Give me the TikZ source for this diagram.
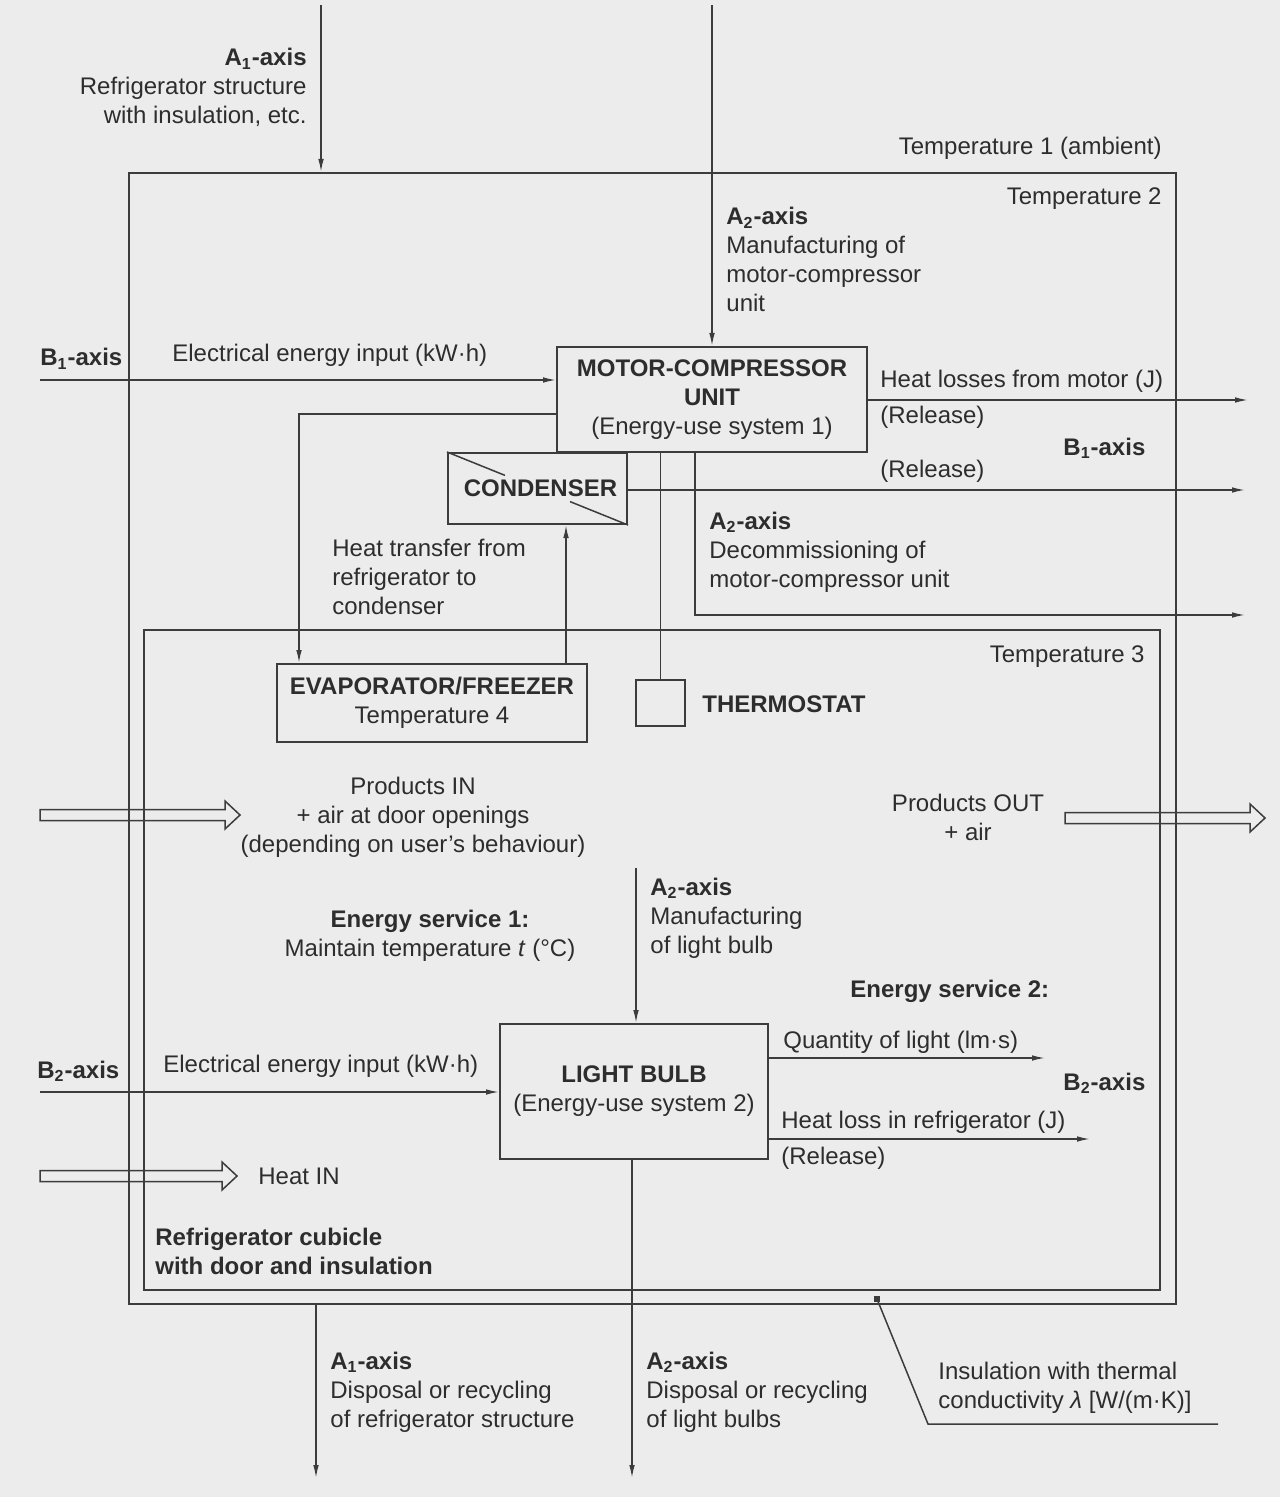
\documentclass[tikz,border=0pt]{standalone}
\usepackage{fontspec}
\setmainfont{Liberation Sans}
\usetikzlibrary{calc,arrows.meta}
\definecolor{paper}{RGB}{236,236,236}
\definecolor{ink}{RGB}{45,45,45}
\definecolor{lineclr}{RGB}{60,60,60}
\newcommand\hollowArrow[2]{%
  \draw[harr] ($(#1)+(0,-5.5)$) -- ($(#2)+(-15,-5.5)$) -- ($(#2)+(-15,-14)$) -- (#2)
    -- ($(#2)+(-15,14)$) -- ($(#2)+(-15,5.5)$) -- ($(#1)+(0,5.5)$) -- cycle;}
\begin{document}
\begin{tikzpicture}[x=0.5pt,y=-0.5pt,
  every node/.style={text=ink, font=\fontsize{12pt}{14.5pt}\selectfont, inner sep=0pt},
  box/.style={draw=lineclr, line width=1pt, align=center},
  arr/.style={draw=lineclr, line width=0.75pt, -{Latex[length=6.5pt,width=2.8pt]}},
  ln/.style={draw=lineclr, line width=0.75pt},
  harr/.style={draw=lineclr, line width=0.75pt},
  lblL/.style={anchor=base west, align=left},
  lblR/.style={anchor=base east, align=right},
  lblC/.style={anchor=base, align=center}]
\fill[paper] (0,0) rectangle (1280,1497);
\useasboundingbox (0,0) rectangle (1280,1497);

% enclosures
\node[box, minimum width=523.5pt, minimum height=565.5pt] (outer) at (652.5,738.5) {};
\node[box, minimum width=508pt, minimum height=330pt] (inner) at (652,960) {};

% component boxes
\node[box, minimum width=155pt, minimum height=52.5pt] (motor) at (712,399.5)
  {\textbf{MOTOR-COMPRESSOR}\\\textbf{UNIT}\\(Energy-use system 1)};
\node[box, minimum width=89.5pt, minimum height=35.5pt] (cond) at (537.5,488.5) {\hspace*{3pt}\textbf{CONDENSER}};
\draw[ln] (cond.north west) -- ($(cond.north west)!0.32!(cond.south east)$);
\draw[ln] ($(cond.north west)!0.68!(cond.south east)$) -- (cond.south east);
\node[box, minimum width=155pt, minimum height=39pt] (evap) at (432,703)
  {\textbf{EVAPORATOR/FREEZER}\\Temperature 4};
\node[box, minimum width=24.5pt, minimum height=23pt] (thermo) at (660.5,703) {};
\node[box, minimum width=134pt, minimum height=67.5pt] (bulb) at (634,1091.5)
  {\textbf{LIGHT BULB}\\(Energy-use system 2)};

% free ends
\coordinate (a1in) at (321,5);
\coordinate (a2in) at (712,5);
\coordinate (b1in) at (40,380);
\coordinate (hl) at (1248,400);
\coordinate (cout) at (1245,490);
\coordinate (mtoe) at (299,414);
\coordinate (etoc) at (566,600);
\coordinate (dc) at (695,615);
\coordinate (dcend) at (1245,615);
\coordinate (lbin) at (636,868);
\coordinate (b2in) at (40,1092);
\coordinate (qlight) at (1045,1058);
\coordinate (hloss) at (1090,1139);
\coordinate (a1out) at (316,1478);
\coordinate (a2out) at (632,1478);
\coordinate (inskink) at (928,1424);
\coordinate (insend) at (1218,1424);
\coordinate (pin1) at (40,815);
\coordinate (pin2) at (240,815);
\coordinate (pout1) at (1065,818);
\coordinate (pout2) at (1265,818);
\coordinate (hin1) at (40,1176);
\coordinate (hin2) at (237,1176);

% connectors
\draw[arr] (a1in) -- (a1in |- outer.north);
\draw[arr] (a2in) -- (motor.north);
\draw[arr] (b1in) -- (b1in -| motor.west);
\draw[arr] (motor.east |- hl) -- (hl);
\draw[arr] (cond.east |- cout) -- (cout);
\draw[arr] (motor.west |- mtoe) -- (mtoe) -- (mtoe |- evap.north);
\draw[arr] (evap.north -| etoc) -- (cond.south -| etoc);
\draw[ln] (motor.south -| thermo) -- (thermo.north);
\draw[arr] (motor.south -| dc) -- (dc) -- (dcend);
\draw[arr] (lbin) -- (lbin |- bulb.north);
\draw[arr] (b2in) -- (b2in -| bulb.west);
\draw[arr] (bulb.east |- qlight) -- (qlight);
\draw[arr] (bulb.east |- hloss) -- (hloss);
\draw[arr] (a1out |- outer.south) -- (a1out);
\draw[arr] (bulb.south -| a2out) -- (a2out);
\node[fill=lineclr, minimum size=2.6pt] (insdot) at (877,1299) {};
\draw[ln] (insdot.center) -- (inskink) -- (insend);
\hollowArrow{pin1}{pin2}
\hollowArrow{pout1}{pout2}
\hollowArrow{hin1}{hin2}

% labels (base anchor = baseline of last line)
\node[lblR] (t_a1top) at (307,124) {\textbf{A\textsubscript{1}-axis}\\Refrigerator structure\\with insulation, etc.};
\node[lblR] (t_temp1) at (1162,155) {Temperature 1 (ambient)};
\node[lblR] (t_temp2) at (1162,205) {Temperature 2};
\node[lblL] (t_a2top) at (726,312) {\textbf{A\textsubscript{2}-axis}\\Manufacturing of\\motor-compressor\\unit};
\node[lblL] (t_b1l) at (40,366) {\textbf{B\textsubscript{1}-axis}};
\node[lblL] (t_el1) at (172,362) {Electrical energy input (kW·h)};
\node[lblL] (t_hlm) at (880,388) {Heat losses from motor (J)};
\node[lblL] (t_rel1) at (880,423) {(Release)};
\node[lblL] (t_b1r) at (1063,455) {\textbf{B\textsubscript{1}-axis}};
\node[lblL] (t_rel2) at (880,477) {(Release)};
\node[lblL] (t_ht) at (332,614) {Heat transfer from\\refrigerator to\\condenser};
\node[lblL] (t_dc) at (709,587) {\textbf{A\textsubscript{2}-axis}\\Decommissioning of\\motor-compressor unit};
\node[lblR] (t_temp3) at (1145,662) {Temperature 3};
\node[lblL] (t_thermo) at (702,712) {\textbf{THERMOSTAT}};
\node[lblC] (t_pin) at (413,852) {Products IN\\+ air at door openings\\(depending on user's behaviour)};
\node[lblC] (t_pout) at (968,840) {Products OUT\\+ air};
\node[lblC] (t_es1) at (430,956) {\textbf{Energy service 1:}\\Maintain temperature \textit{t} (°C)};
\node[lblL] (t_a2lb) at (650,953) {\textbf{A\textsubscript{2}-axis}\\Manufacturing\\of light bulb};
\node[lblL] (t_es2) at (850,997) {\textbf{Energy service 2:}};
\node[lblL] (t_b2l) at (37,1078) {\textbf{B\textsubscript{2}-axis}};
\node[lblL] (t_el2) at (163,1072) {Electrical energy input (kW·h)};
\node[lblL] (t_ql) at (783,1048) {Quantity of light (lm·s)};
\node[lblL] (t_b2r) at (1063,1090) {\textbf{B\textsubscript{2}-axis}};
\node[lblL] (t_hlr) at (781,1128) {Heat loss in refrigerator (J)};
\node[lblL] (t_rel3) at (781,1164) {(Release)};
\node[lblL] (t_hin) at (258,1184) {Heat IN};
\node[lblL] (t_cub) at (155,1274) {\textbf{Refrigerator cubicle}\\\textbf{with door and insulation}};
\node[lblL] (t_a1bot) at (330,1427) {\textbf{A\textsubscript{1}-axis}\\Disposal or recycling\\of refrigerator structure};
\node[lblL] (t_a2bot) at (646,1427) {\textbf{A\textsubscript{2}-axis}\\Disposal or recycling\\of light bulbs};
\node[lblL] (t_ins) at (938,1408) {Insulation with thermal\\conductivity \textit{λ} [W/(m·K)]};
\end{tikzpicture}
\end{document}
